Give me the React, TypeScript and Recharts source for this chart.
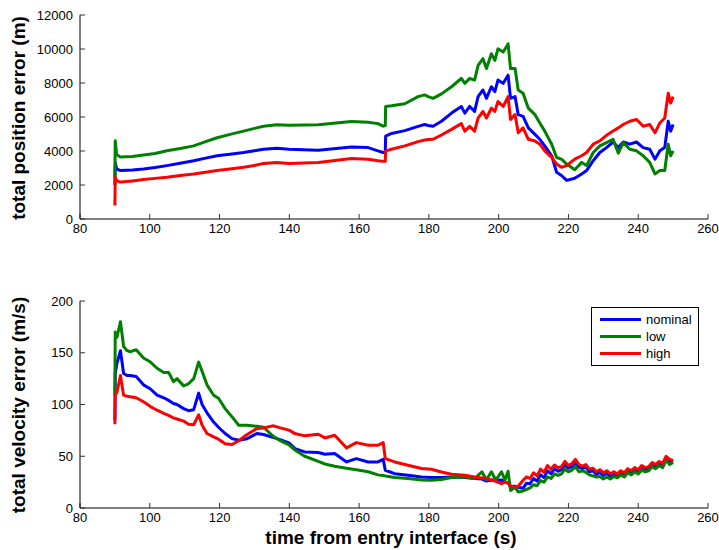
import React from 'react'
import { Line, LineChart, XAxis, YAxis } from 'recharts'

// time axis (s) for the position error panel
const topTime = [
  90, 90.1, 90.5, 91.6, 95, 98.2, 101.5, 104.9, 108.7, 112.6, 116, 119.3, 123, 126.9, 130, 132.6, 136.4, 139.9,
  148.3, 157.8, 162.6, 165.4, 166.9, 167.5, 167.6, 169.3, 173.1, 176.9, 178.8, 179.8, 181.2, 183.6, 186.5, 189.3,
  190.3, 191.7, 193.1, 194.1, 195.5, 196.5, 197.9, 198.9, 199.8,
  201.3, 202.7, 203.4, 204.7, 205.6, 207, 208.5, 210.4, 211.8, 213.2, 215.2, 216.6, 218, 219.5, 221.8, 223.8,
  225.2, 227.1, 229, 230.9, 232.8, 234.3, 235.7, 237.6, 239.5, 241.4, 243.3, 244.8, 246.2, 247.6, 248.6, 249.3, 250,
]

const posNominal = [
  2000, 3300, 2950, 2850, 2880, 2940, 3030, 3140, 3280, 3430, 3580, 3720, 3810, 3910, 4010, 4100, 4160, 4100,
  4050, 4240, 4200, 4010, 3910, 3910, 4880, 5030, 5200, 5450, 5560, 5500, 5460, 5750, 6230, 6620,
  6230, 6620, 6330, 7200, 7590, 7100, 7780, 7490, 8170,
  7980, 8460, 7100, 7200, 6140, 6040, 5360, 4980, 4690, 4300, 3720, 2750, 2560, 2270, 2400, 2650,
  2850, 3430, 3910, 4200, 4530, 4200, 4530, 4400, 4530, 4200, 4100, 3520, 4010, 4200, 5750, 5170, 5560,
]

const posLow = [
  2450, 4600, 3800, 3640, 3680, 3760, 3850, 4010, 4150, 4300, 4550, 4780, 4980, 5170, 5330, 5460, 5540, 5520,
  5540, 5730, 5690, 5610, 5460, 5500, 6620, 6660, 6780, 7200, 7300, 7200, 7100, 7360, 7780, 8270,
  7980, 8270, 8170, 9040, 9430, 8850, 9720, 9330, 10010,
  9820, 10300, 8850, 8850, 7590, 7400, 6520, 6140, 5650, 5170, 4400, 3620, 3520, 3230, 2900, 3330,
  3140, 3910, 4300, 4490, 4690, 3870, 4490, 4100, 4010, 3720, 3330, 2650, 2850, 2850, 4400, 3720, 4010,
]

const posHigh = [
  800, 2450, 2250, 2170, 2240, 2320, 2390, 2460, 2560, 2650, 2750, 2850, 2940, 3040, 3150, 3270, 3330, 3270,
  3330, 3560, 3520, 3430, 3390, 3390, 4010, 4100, 4300, 4550, 4650, 4680, 4690, 4940, 5270, 5610,
  5170, 5450, 5170, 5940, 6330, 5940, 6520, 6330, 6910,
  6620, 7200, 5850, 6140, 5070, 5360, 4690, 4590, 4400, 4010, 3620, 3230, 3040, 3140, 3520, 3720,
  3910, 4400, 4590, 4920, 5170, 5360, 5560, 5750, 5850, 5460, 5560, 5070, 5650, 5940, 7400, 6820, 7200,
]

// time axis (s) for the velocity error panel
const botTime = [
  90, 90.1, 90.6, 91.6, 92.5, 93.5, 94.4, 96.1, 98.2, 100.2, 102.1, 104, 105.4, 106.8, 107.8, 109.7, 111.1, 112.6,
  114, 115, 116.4, 118.3, 119.7, 121.6, 123.6, 125.5, 127.9, 130.7, 132.6, 135.5, 137.4, 139.9,
  141.6, 144.4, 148.3, 150.2, 153, 156.4, 159.2, 162.6, 165.4, 166.9, 167.5, 170.2, 174, 177.9, 180.7,
  183.6, 186.5, 190.3, 193.1, 195.2, 196.5, 197.9, 199.2, 200.8, 201.8, 202.7, 203.4, 204.7, 205.6, 207,
  208, 209, 210, 211, 212, 213, 214, 215, 216, 217, 218, 219, 220, 221, 222, 223, 224, 225, 226, 227, 228, 229,
  230, 231, 232, 233, 234, 235, 236, 237, 238, 239, 240, 241, 242, 243, 244, 245, 246, 247, 248, 249, 250,
]

const velNominal = [
  85, 130, 140, 152, 130, 128, 128, 127, 119, 115, 109, 106.5, 104, 101, 100, 96, 94, 95,
  111, 100, 92, 83, 78, 72, 67, 65.5, 67, 72, 71, 68, 66, 63,
  57.4, 54.2, 53.6, 52, 52.6, 44.5, 47.7, 44.5, 44.5, 47, 36.5, 33.2, 31.6, 30, 29.4,
  29.4, 30, 29.4, 28.4, 28, 26, 27, 26.8, 27, 25, 24, 21, 21, 20, 19,
  24, 23.5, 28.5, 26, 32, 29.5, 36, 33, 38, 35.5, 37, 41.5, 38.5, 40, 44, 39.5, 38, 39.5, 35, 36, 32.5, 34.5,
  31.5, 33.5, 30.5, 32.5, 31, 34, 32, 36, 34, 37, 35, 39, 37, 38, 42, 40, 43, 41, 48, 45, 44,
]

const velLow = [
  109, 170, 165, 180, 156, 152, 151, 153, 145, 141, 135, 131, 131, 122, 125, 118, 120, 125,
  141, 132, 119, 109, 106, 96, 88, 80, 80, 79, 78, 69, 65, 61,
  56, 50, 45, 42.5, 40.3, 38.5, 37, 35, 32, 31.5, 31, 29.5, 28.4, 27, 26.8,
  27.5, 29.5, 30, 28.4, 35, 27, 35, 27, 35, 27, 35.5, 17, 20, 15.5, 16.5,
  18, 19.5, 22.5, 21.5, 26.5, 25, 30, 28.5, 33, 31.5, 33, 37.5, 35, 36.5, 40, 35, 36, 34.5, 32, 31, 30, 30.5,
  28, 30, 28, 30.5, 29, 32, 30, 34, 32, 35, 33, 36.5, 35, 36, 40, 38, 41, 39, 46, 42, 44,
]

const velHigh = [
  81, 109, 112, 128, 109, 108, 107.5, 106.5, 102.6, 98, 94.5, 91.5, 89.5, 87, 86, 84, 81, 80.5,
  90, 80, 72, 68.7, 66.5, 62, 61.3, 65, 71, 76.8, 77.4, 79.4, 77.4, 75.2,
  71.9, 69.7, 71.3, 67.7, 70.3, 58.1, 63.2, 60.6, 60.6, 63.2, 47.7, 44.5, 41.3, 38.1, 37.4,
  34.8, 32.6, 31.6, 30, 29, 28.4, 27, 25.8, 23.5, 25, 24, 21, 20.3, 21, 26.8,
  30, 28.5, 34, 31, 37.5, 34.5, 41, 37.5, 41.5, 39, 40, 45, 41, 43, 47, 42, 40.5, 42, 37.5, 38.5, 35, 37,
  34, 36, 33, 35, 33, 36, 34, 38, 36, 39, 37, 41, 39, 40, 44, 42, 45, 43, 50, 47, 46,
]

const xTicks = [80, 100, 120, 140, 160, 180, 200, 220, 240, 260]
const posTicks = [0, 2000, 4000, 6000, 8000, 10000, 12000]
const velTicks = [0, 50, 100, 150, 200]

const seriesNames = ['nominal', 'low', 'high']
const seriesColors = ['#0000ff', '#008000', '#ff0000']

const topRows = topTime.map((t, i) => ({ t, nominal: posNominal[i], low: posLow[i], high: posHigh[i] }))
const botRows = botTime.map((t, i) => ({ t, nominal: velNominal[i], low: velLow[i], high: velHigh[i] }))

const FONT = '"Liberation Sans", Arial, Helvetica, sans-serif'
const tickStyle = { fontSize: 13, fill: '#000', fontFamily: FONT }
const blank = () => ''

function LegendBox() {
  return (
    <div
      style={{
        position: 'absolute',
        left: 591,
        top: 307,
        border: '1px solid #000',
        background: '#fff',
        padding: '3px 0',
        width: 106,
        fontFamily: FONT,
        fontSize: 13,
        color: '#000',
      }}
    >
      {seriesNames.map((name, i) => (
        <div key={name} style={{ display: 'flex', alignItems: 'center', height: 17 }}>
          <div style={{ marginLeft: 8, width: 41, height: 3, background: seriesColors[i] }} />
          <span style={{ marginLeft: 5 }}>{name}</span>
        </div>
      ))}
    </div>
  )
}

function Panel({
  rows,
  yMax,
  yTicks,
  height,
  marginTop,
  marginBottom,
}: {
  rows: any[]
  yMax: number
  yTicks: number[]
  height: number
  marginTop: number
  marginBottom: number
}) {
  return (
    <LineChart
      width={719}
      height={height}
      data={rows}
      margin={{ top: marginTop, right: 11, bottom: marginBottom, left: 20 }}
    >
      <XAxis
        xAxisId="b"
        dataKey="t"
        type="number"
        domain={[80, 260]}
        ticks={xTicks}
        interval={0}
        allowDataOverflow
        height={30}
        tickSize={-5}
        tickMargin={10}
        tick={tickStyle}
        axisLine={{ stroke: '#000' }}
        tickLine={{ stroke: '#333' }}
      />
      <XAxis
        xAxisId="t"
        orientation="top"
        dataKey="t"
        type="number"
        domain={[80, 260]}
        ticks={xTicks}
        interval={0}
        height={0}
        tickSize={-5}
        tickFormatter={blank}
        tick={tickStyle}
        axisLine={{ stroke: '#000' }}
        tickLine={{ stroke: '#333' }}
      />
      <YAxis
        yAxisId="l"
        type="number"
        domain={[0, yMax]}
        ticks={yTicks}
        interval={0}
        allowDataOverflow
        width={60}
        tickSize={-5}
        tickMargin={12}
        tick={tickStyle}
        axisLine={{ stroke: '#000' }}
        tickLine={{ stroke: '#333' }}
      />
      <YAxis
        yAxisId="r"
        orientation="right"
        type="number"
        domain={[0, yMax]}
        ticks={yTicks}
        interval={0}
        width={0}
        tickSize={-5}
        tickFormatter={blank}
        tick={tickStyle}
        axisLine={{ stroke: '#000' }}
        tickLine={{ stroke: '#333' }}
      />
      {seriesNames.map((name, i) => (
        <Line
          key={name}
          xAxisId="b"
          yAxisId="l"
          type="linear"
          dataKey={name}
          stroke={seriesColors[i]}
          strokeWidth={3}
          strokeLinejoin="round"
          dot={false}
          isAnimationActive={false}
        />
      ))}
    </LineChart>
  )
}

const titleStyle: React.CSSProperties = {
  position: 'absolute',
  fontFamily: FONT,
  fontWeight: 'bold',
  fontSize: 19,
  color: '#000',
  whiteSpace: 'nowrap',
}

export default function App() {
  return (
    <div style={{ position: 'absolute', left: 0, top: 0, width: 719, height: 550, background: '#fff' }}>
      <div style={{ position: 'absolute', left: 0, top: 0 }}>
        <Panel rows={topRows} yMax={12000} yTicks={posTicks} height={260} marginTop={15} marginBottom={11} />
      </div>
      <div style={{ position: 'absolute', left: 0, top: 283 }}>
        <Panel rows={botRows} yMax={200} yTicks={velTicks} height={267} marginTop={18} marginBottom={12} />
      </div>
      <LegendBox />
      <div
        style={{
          ...titleStyle,
          left: 19,
          top: 118,
          transform: 'translate(-50%, -50%) rotate(-90deg)',
        }}
      >
        total position error (m)
      </div>
      <div
        style={{
          ...titleStyle,
          left: 19,
          top: 405,
          transform: 'translate(-50%, -50%) rotate(-90deg)',
        }}
      >
        total velocity error (m/s)
      </div>
      <div style={{ ...titleStyle, left: 391, top: 538, transform: 'translate(-50%, -50%)' }}>
        time from entry interface (s)
      </div>
    </div>
  )
}
